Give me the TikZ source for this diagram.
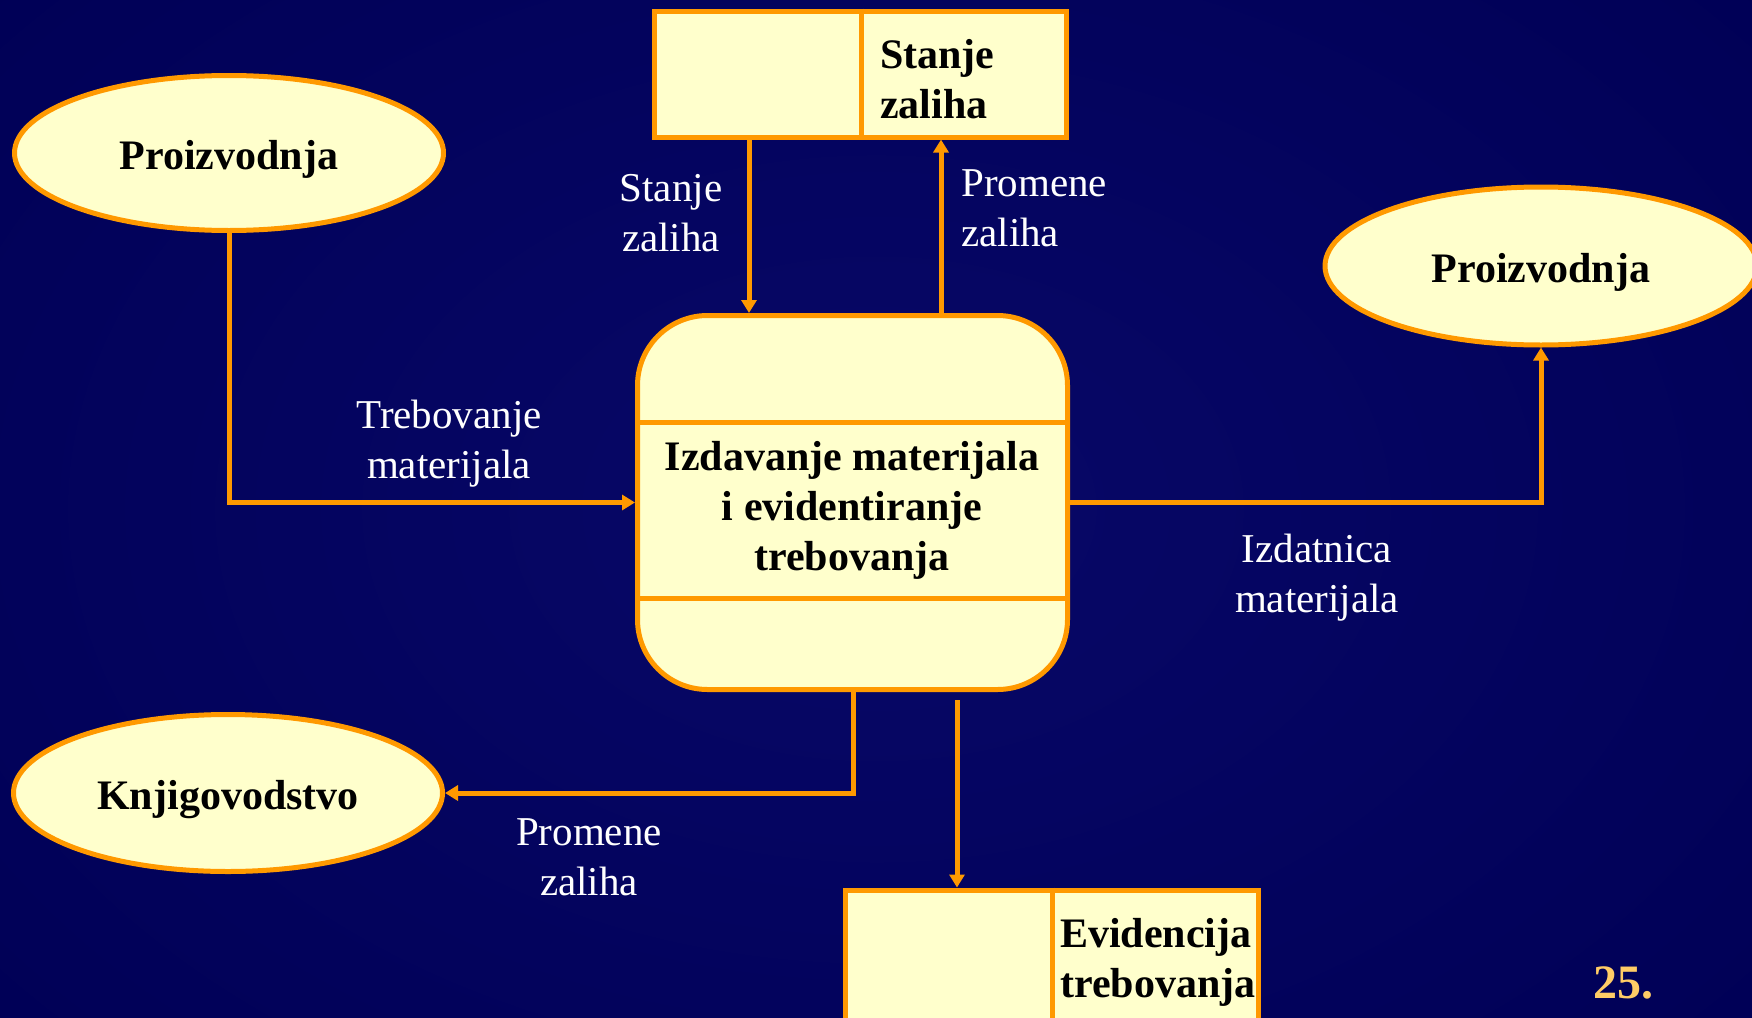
\documentclass[tikz,border=0pt]{standalone}
\usepackage{fontspec}
\setmainfont{Liberation Serif}
\usetikzlibrary{arrows.meta,shapes.geometric}
\definecolor{bgnavy}{RGB}{0,0,86}
\definecolor{bglight}{RGB}{8,8,104}
\definecolor{lineorange}{RGB}{255,153,0}
\definecolor{boxfill}{RGB}{255,255,204}
\definecolor{numgold}{RGB}{255,204,102}
\tikzset{
  flow/.style={draw=lineorange, line width=5pt, -{Triangle[width=15pt,length=13pt]}},
  plainline/.style={draw=lineorange, line width=5pt},
  storebox/.style={draw=lineorange, fill=boxfill, line width=5pt, rectangle, inner sep=0pt},
  extent/.style={draw=lineorange, fill=boxfill, line width=5pt, ellipse, inner sep=0pt,
     text height=40pt, text depth=8pt,
     font=\fontsize{42}{50}\selectfont\bfseries},
  procbox/.style={draw=lineorange, fill=boxfill, line width=5pt, rectangle, rounded corners=70pt, inner sep=0pt},
  boxtext/.style={font=\fontsize{42}{50}\selectfont\bfseries, text=black, inner sep=0pt},
  flowlabel/.style={font=\fontsize{41}{50}\selectfont, text=white, inner sep=0pt},
}
\begin{document}
\begin{tikzpicture}[x=1pt,y=-1pt]
\useasboundingbox (0,0) rectangle (1752,1017);
\shade[inner color=bglight, outer color=bgnavy] (-300,-300) rectangle (2052,1317);
% stores
\node[storebox, minimum width=412pt, minimum height=126pt] (st1) at (860,74) {};
\coordinate (d1) at (861,0);
\draw[plainline] (st1.north -| d1) -- (st1.south -| d1);
\node[boxtext, anchor=west, align=left] (st1t) at (880,79) {Stanje\\zaliha};
\node[storebox, minimum width=413pt, minimum height=150pt] (st2) at (1052,965) {};
\coordinate (d2) at (1052,0);
\draw[plainline] (st2.north -| d2) -- (st2.south -| d2);
\node[boxtext, anchor=west, align=left] (st2t) at (1060,962) {Evidencija\\trebovanja};
% process
\node[procbox, minimum width=430pt, minimum height=374pt] (proc) at (852.5,502.5) {};
\coordinate (h1) at (0,422);
\coordinate (h2) at (0,598);
\draw[plainline] (proc.west |- h1) -- (proc.east |- h1);
\draw[plainline] (proc.west |- h2) -- (proc.east |- h2);
\node[boxtext, align=center] (proct) at (852,510) {Izdavanje materijala\\i evidentiranje\\trebovanja};
% externals
\node[extent, minimum width=429pt, minimum height=155pt] (p1) at (229,153) {Proizvodnja};
\node[extent, minimum width=432pt, minimum height=158pt] (p2) at (1541,266) {Proizvodnja};
\node[extent, minimum width=429pt, minimum height=157pt] (kn) at (228,793) {Knjigovodstvo};
% connectors
\coordinate (a1) at (749,0);
\coordinate (a2) at (941,0);
\coordinate (a3) at (853,0);
\coordinate (a4) at (957,0);
\draw[flow] (st1.south -| a1) -- (proc.north -| a1);
\draw[flow] (proc.north -| a2) -- (st1.south -| a2);
\draw[flow] (p1.south) |- (proc.west);
\draw[flow] (proc.east) -| (p2.south);
\draw[flow] (proc.south -| a3) |- (kn.east);
\draw[flow] ([yshift=-8pt]proc.south -| a4) -- (st2.north -| a4);
% labels
\node[flowlabel, align=center] (l1) at (671,213) {Stanje\\zaliha};
\node[flowlabel, align=left, anchor=west] (l2) at (961,208) {Promene\\zaliha};
\node[flowlabel, align=center] (l3) at (449,444) {Trebovanje\\materijala};
\node[flowlabel, align=center] (l4) at (1317,578) {Izdatnica\\materijala};
\node[flowlabel, align=center] (l5) at (589,857) {Promene\\zaliha};
\node[font=\fontsize{48}{56}\selectfont\bfseries, text=numgold, inner sep=0pt] (num) at (1623,983) {25.};
\end{tikzpicture}
\end{document}
